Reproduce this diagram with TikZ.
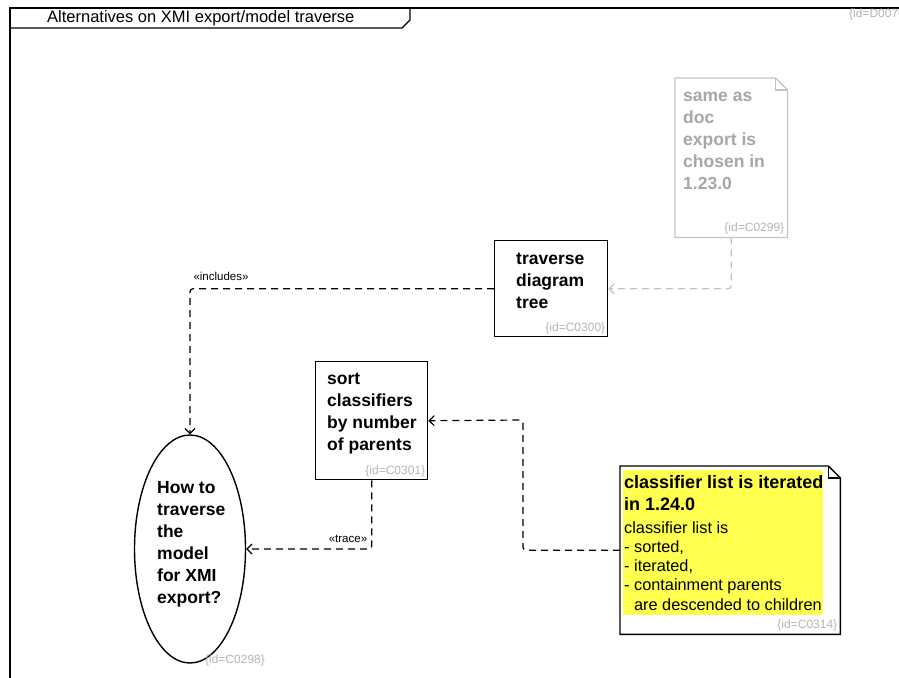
\documentclass[tikz,border=0pt]{standalone}
\usepackage{fontspec}
\setmainfont{Liberation Sans}
\usetikzlibrary{arrows.meta,shapes.geometric}
\definecolor{idgray}{RGB}{180,180,180}
\definecolor{notegray}{RGB}{195,195,195}
\definecolor{hilite}{RGB}{255,255,80}

\begin{document}
\begin{tikzpicture}[x=1pt,y=-1pt,>={Straight Barb[length=5pt,width=10pt]}]
\tikzstyle{blk}=[rectangle,draw,line width=1.4pt,inner sep=0pt,anchor=north west]
\tikzstyle{shell}=[rectangle,inner sep=0pt,anchor=north west]
\tikzstyle{txt}=[anchor=north west,inner sep=0pt,align=left,font=\bfseries\fontsize{17.5}{22}\selectfont]
\tikzstyle{ident}=[anchor=south east,inner sep=3pt,text=idgray,font=\fontsize{12}{14}\selectfont]
\tikzstyle{stereo}=[inner sep=0pt,font=\fontsize{11.5}{13}\selectfont]
\tikzstyle{dep}=[->,line width=1.2pt,dash pattern=on 7pt off 5pt,rounded corners=3pt]
\useasboundingbox (0,0) rectangle (899,677);
\clip (0,0) rectangle (899,677);
% diagram frame and its name tab
\draw[line width=1.4pt] (10,690) -- (10,8) -- (910,8);
\draw[line width=1.4pt] (410,8) -- (410,20) -- (402,28) -- (10,28);
\node[anchor=west,inner sep=0pt,font=\fontsize{16.5}{19}\selectfont] (title) at (47,18) {Alternatives on XMI export/model traverse};
\node[anchor=west,inner sep=0pt,text=idgray,font=\fontsize{12}{14}\selectfont] (d70) at (849,14) {\{id=D0070\}};
% note C0299 (greyed out)
\node[shell,minimum width=112pt,minimum height=159pt] (n299) at (675,78) {};
\draw[notegray,line width=1.2pt] (n299.north west) -- ([xshift=-12pt]n299.north east) -- ([yshift=-12pt]n299.north east) -- (n299.south east) -- (n299.south west) -- cycle;
\draw[notegray,line width=1.2pt] ([xshift=-12pt]n299.north east) -- ++(0,12) -- ++(12,0);
\node[txt,text=notegray!85!black] (t299) at (683,92) {same as\\doc\\export is\\chosen in\\1.23.0};
\node[ident] (i299) at (n299.south east) {\{id=C0299\}};
% requirement boxes
\node[blk,minimum width=113pt,minimum height=96pt] (c300) at (494,240) {};
\node[txt] (t300) at (516,253) {traverse\\diagram\\tree};
\node[ident] (i300) at (c300.south east) {\{id=C0300\}};
\node[blk,minimum width=112pt,minimum height=118pt] (c301) at (315,361) {};
\node[txt] (t301) at (327,373) {sort\\classifiers\\by number\\of parents};
\node[ident] (i301) at (c301.south east) {\{id=C0301\}};
% the question
\node[draw,ellipse,line width=1.4pt,inner sep=0pt,minimum width=111pt,minimum height=228pt] (c298) at (190,549) {};
\node[txt] (t298) at (157,481) {How to\\traverse\\the\\model\\for XMI\\export?};
\node[ident,anchor=center] (i298) at (235,660) {\{id=C0298\}};
% note C0314
\node[shell,minimum width=220pt,minimum height=168pt] (n314) at (620,466) {};
\fill[hilite] (623,470) rectangle (823,615);
\draw[line width=1.4pt] (n314.north west) -- ([xshift=-12pt]n314.north east) -- ([yshift=-12pt]n314.north east) -- (n314.south east) -- (n314.south west) -- cycle;
\draw[line width=1.4pt] ([xshift=-12pt]n314.north east) -- ++(0,12) -- ++(12,0);
\node[txt,font=\bfseries\fontsize{18}{22}\selectfont] (h314) at (624,475) {classifier list is iterated\\in 1.24.0};
\node[txt,font=\fontsize{16.3}{19.3}\selectfont] (t314) at (624,521) {classifier list is\\- sorted,\\- iterated,\\- containment parents\\\hphantom{-} are descended to children};
\node[ident] (i314) at (n314.south east) {\{id=C0314\}};
% dependencies
\coordinate (bend) at (523,420);
\draw[dep,notegray] (n299.south) |- (c300.east);
\draw[dep] (c300.west) -| (c298.north);
\draw[dep] (c301.south) |- (c298.east);
\draw[dep] (n314.west) -| (bend) -- (c301.east);
\node[stereo] (inc) at (221,276) {«includes»};
\node[stereo] (trc) at (348,539) {«trace»};
\end{tikzpicture}
\end{document}
